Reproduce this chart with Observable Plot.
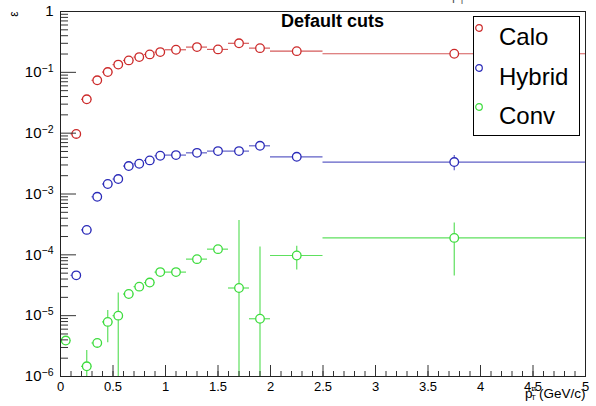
<!DOCTYPE html>
<html>
<head>
<meta charset="utf-8">
<script src="https://cdn.jsdelivr.net/npm/d3@7"></script>
<script src="https://cdn.jsdelivr.net/npm/@observablehq/plot@0.6"></script>
<style>
  html, body { margin: 0; padding: 0; background: #fff; }
  #wrap { position: relative; width: 596px; height: 406px; overflow: hidden; font-family: "Liberation Sans", Arial, sans-serif; }
  #wrap svg { position: absolute; left: 0; top: 0; }
  .ov { position: absolute; white-space: nowrap; color: #000; }
  #title { left: 281px; top: 10px; font-size: 18px; font-weight: bold; line-height: 22px; }
  #legend { left: 473px; top: 16px; width: 105px; height: 118px; border: 1px solid #000; background: #fff; }
  .lg { position: absolute; left: 0; font-size: 24px; line-height: 28px; height: 28px; }
  .lg svg { position: absolute; left: 8px; top: 10px; }
  .lg span { position: absolute; left: 25px; top: 0; }
  #xtitle { left: 525px; top: 386px; font-size: 13.5px; line-height: 16px; }
  #xtitle .p { position: absolute; left: 0; top: 0; }
  #xtitle .st { position: absolute; left: 6px; top: -2px; font-size: 8px; line-height: 9px; display: flex; flex-direction: column; }
  #xtitle .rest { position: absolute; left: 14px; top: 0; }
  #ytitle { left: 11px; top: 7px; font-size: 12px; transform: rotate(-90deg); transform-origin: 50% 50%; }
  #cut { left: 452px; top: -12px; font-size: 13px; color: #555; }
</style>
</head>
<body>
<div id="wrap"></div>
<script>
// ---- data ----
const ptBinCenter    = [0.05, 0.15, 0.25, 0.35, 0.45, 0.55, 0.65, 0.75, 0.85, 0.95, 1.1, 1.3, 1.5, 1.7, 1.9, 2.25, 3.75];
const ptBinHalfWidth = [0.05, 0.05, 0.05, 0.05, 0.05, 0.05, 0.05, 0.05, 0.05, 0.05, 0.1, 0.1, 0.1, 0.1, 0.1, 0.25, 1.25];

const effCalo   = [null, 0.0097, 0.036, 0.074, 0.101, 0.134, 0.157, 0.178, 0.197, 0.215, 0.235, 0.26, 0.238, 0.30, 0.25, 0.223, 0.202];
const errCalo   = [0, 0, 0, 0, 0, 0, 0, 0, 0, 0, 0, 0, 0, 0, 0, 0, 0];

const effHybrid = [null, 4.6e-5, 2.57e-4, 9.0e-4, 1.46e-3, 1.76e-3, 2.88e-3, 3.14e-3, 3.57e-3, 4.25e-3, 4.36e-3, 4.75e-3, 5.07e-3, 5.07e-3, 6.2e-3, 4.09e-3, 3.35e-3];
const errHybrid = [0, 0, 0, 0, 0, 0, 0, 0, 0, 0, 0, 0, 0, 0, 0, 0, 9.5e-4];

const effConv   = [3.9e-6, null, 1.47e-6, 3.56e-6, 7.9e-6, 1.0e-5, 2.27e-5, 3.0e-5, 3.5e-5, 5.2e-5, 5.2e-5, 8.5e-5, 1.24e-4, 2.85e-5, 8.9e-6, 9.75e-5, 1.9e-4];
const errConv   = [0, 0, 1.2e-6, 0, 4.3e-6, 1.35e-5, 0, 0, 0, 0, 0, 0, 0, 3.37e-4, 1.25e-4, 4.1e-5, 1.45e-4];

const seriesNames = ["Calo", "Hybrid", "Conv"];
const xTickValues = [0, 0.5, 1, 1.5, 2, 2.5, 3, 3.5, 4, 4.5, 5];
const xMinorTicks = d3.range(0, 50).map(i => i / 10);
const yTickValues = [1e-6, 1e-5, 1e-4, 1e-3, 1e-2, 1e-1, 1];
const yTickLabels = ["10^−6", "10^−5", "10^−4", "10^−3", "10^−2", "10^−1", "1"];
const yMinorTicks = d3.range(-6, 0).flatMap(e => d3.range(2, 10).map(k => k * Math.pow(10, e)));

// ---- styles ----
const markerColor = {Calo: "#cc2a2a", Hybrid: "#2a2ab8", Conv: "#3ddc3d"};
const lineColor   = {Calo: "#d45a5a", Hybrid: "#5f5fc6", Conv: "#5ee05e"};

const W = 596, H = 406, mL = 60, mR = 11, mT = 11, mB = 30;
const plotW = W - mL - mR, plotH = H - mT - mB;

const effs = {Calo: effCalo, Hybrid: effHybrid, Conv: effConv};
const errs = {Calo: errCalo, Hybrid: errHybrid, Conv: errConv};
const rows = seriesNames.flatMap(s => ptBinCenter.map((x, i) => ({
  series: s, x, hw: ptBinHalfWidth[i], y: effs[s][i], err: errs[s][i]
})).filter(d => d.y != null));

const yMin = 1e-6;
const chart = Plot.plot({
  width: W, height: H,
  marginLeft: mL, marginRight: mR, marginTop: mT, marginBottom: mB,
  style: {fontFamily: "'Liberation Sans', Arial, sans-serif", background: "transparent", overflow: "visible"},
  x: {domain: [0, 5], axis: null, label: null},
  y: {type: "log", domain: [yMin, 1], axis: null, label: null},
  marks: [
    // horizontal bin-width bars
    Plot.ruleY(rows, {y: "y", x1: d => d.x - d.hw, x2: d => d.x + d.hw, stroke: d => lineColor[d.series], strokeWidth: 1.2}),
    // vertical error bars
    Plot.ruleX(rows.filter(d => d.err > 0), {
      x: "x", y1: d => Math.max(d.y - d.err, 1e-8), y2: d => d.y + d.err,
      stroke: d => lineColor[d.series], strokeWidth: 1.2, clip: true
    }),
    Plot.dot(rows, {x: "x", y: "y", r: 4.3, stroke: d => markerColor[d.series], fill: "white", strokeWidth: 1.3}),
    // y ticks (inside, ROOT style)
    Plot.ruleY(yTickValues, {y: d => d, insetRight: plotW - 16, stroke: "#333", strokeWidth: 1}),
    Plot.ruleY(yMinorTicks, {y: d => d, insetRight: plotW - 8, stroke: "#333", strokeWidth: 1}),
    // x ticks
    Plot.ruleX(xMinorTicks, {x: d => d, insetTop: plotH - 5, stroke: "#333", strokeWidth: 1}),
    Plot.ruleX(xTickValues, {x: d => d, insetTop: plotH - 11, stroke: "#333", strokeWidth: 1}),
    Plot.axisY({ticks: yTickValues, tickSize: 0, tickPadding: 7, fontSize: 15, label: null,
      tickFormat: d => yTickLabels[yTickValues.indexOf(d)]}),
    Plot.axisX({ticks: xTickValues, tickSize: 0, tickPadding: 5, fontSize: 13, label: null, tickFormat: d => String(d)}),
    Plot.frame({stroke: "#222", strokeWidth: 1})
  ]
});

// superscript exponents in tick labels
d3.select(chart).selectAll("text").each(function() {
  const t = this.textContent;
  if (t.includes("^")) {
    const [base, exp] = t.split("^");
    const sel = d3.select(this);
    sel.text(null);
    sel.append("tspan").text(base);
    sel.append("tspan").attr("dy", "-0.5em").attr("font-size", "10.5px").text(exp);
  }
});

const wrap = document.getElementById("wrap");
wrap.appendChild(chart);

function ov(id, html) {
  const d = document.createElement("div");
  d.className = "ov"; d.id = id; d.innerHTML = html;
  wrap.appendChild(d);
  return d;
}
ov("title", "Default cuts");
ov("cut", "p<sub style='font-size:9px'>T</sub>");
ov("xtitle", "<span class='p'>p</span><span class='st'><span>π</span><span>T</span></span><span class='rest'>(GeV/c)</span>");
ov("ytitle", "ε");
const lg = ov("legend", "");
seriesNames.forEach((s, i) => {
  const e = document.createElement("div");
  e.className = "lg";
  e.style.top = (6 + i * 39.5) + "px";
  e.innerHTML = `<svg width="10" height="10"><circle cx="5" cy="5" r="3.3" fill="none" stroke="${markerColor[s]}" stroke-width="1.2"/></svg><span>${s}</span>`;
  lg.appendChild(e);
});
</script>
</body>
</html>
